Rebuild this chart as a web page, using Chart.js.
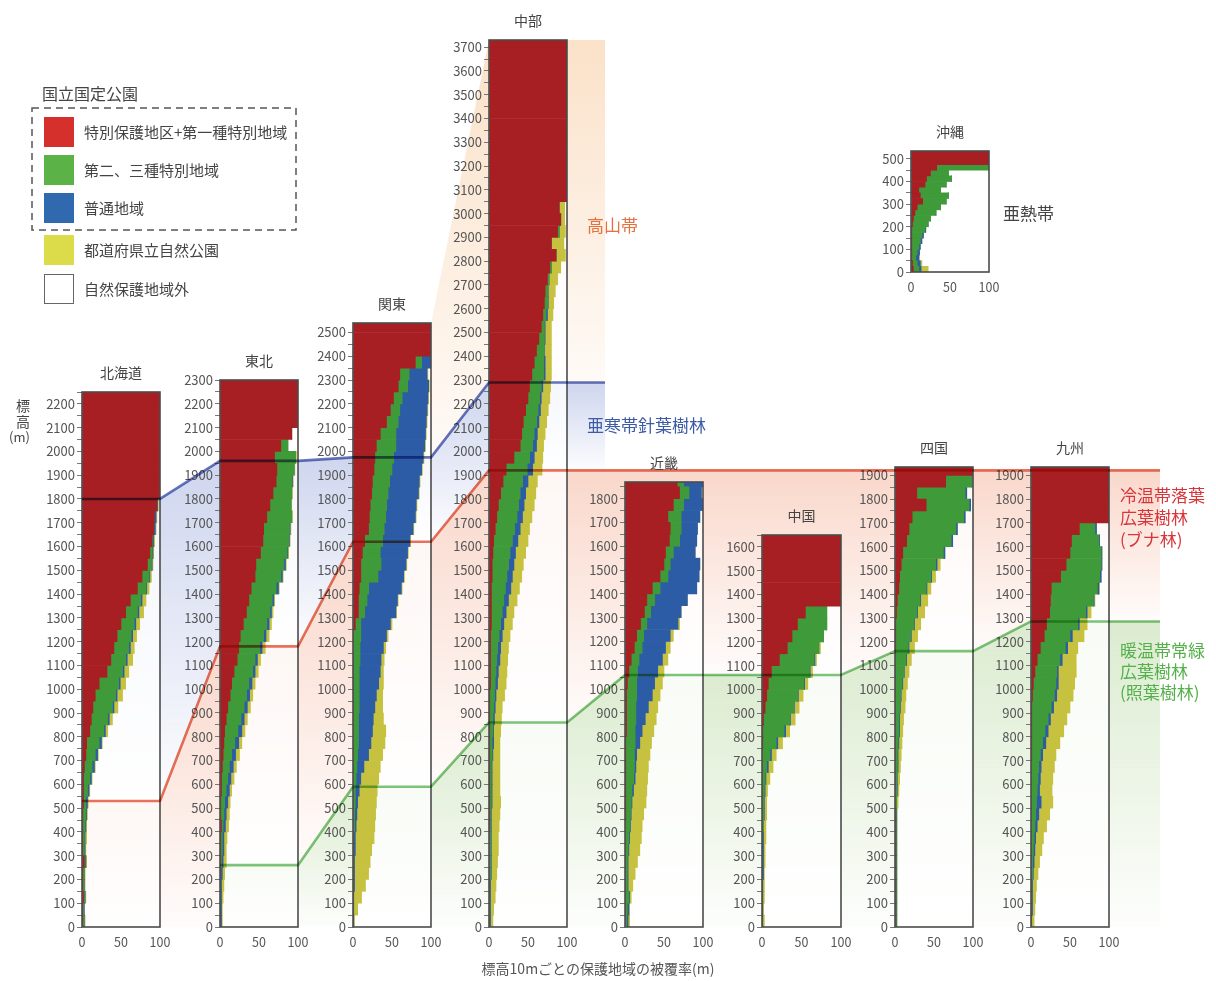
<!DOCTYPE html>
<html lang="ja">
<head>
<meta charset="utf-8">
<title>標高別の保護地域被覆率</title>
<script src="https://cdn.jsdelivr.net/npm/chart.js@4.4.1/dist/chart.umd.min.js"></script>
<style>
  html, body { margin: 0; padding: 0; background: #fff; }
  #stage { position: relative; width: 1216px; height: 981px; overflow: hidden;
           font-family: "Noto Sans CJK JP", "Noto Sans", sans-serif; color: #444; }
  #stage canvas { position: absolute; }
  .t { position: absolute; white-space: nowrap; z-index: 3; }
  .ptitle { font-size: 14px; color: #444; transform: translate(-50%, -50%); }
  .zone { font-size: 17px; line-height: 22px; }
  .sw { position: absolute; width: 30px; height: 30px; z-index: 3; }
  .leg { font-size: 15px; color: #444; line-height: 20px; }
</style>
</head>
<body>
<div id="stage">
  <canvas id="zones" width="1216" height="981" style="left:0;top:0;z-index:0"></canvas>
  <canvas id="bounds" width="1216" height="981" style="left:0;top:0;z-index:2;mix-blend-mode:multiply;pointer-events:none"></canvas>

  <!-- legend -->
  <div class="t" style="left:42px;top:81px;font-size:16px;color:#444;">国立国定公園</div>
  <svg style="position:absolute;left:30px;top:106px;z-index:3" width="270" height="127">
    <rect x="2" y="2" width="264" height="122" fill="none" stroke="#555" stroke-width="1.5" stroke-dasharray="7 5"/>
  </svg>
  <div class="sw" style="left:44px;top:117px;background:#d6302c;"></div>
  <div class="sw" style="left:44px;top:155px;background:#5bb348;"></div>
  <div class="sw" style="left:44px;top:193px;background:#3169b0;"></div>
  <div class="sw" style="left:44px;top:235px;background:#dcdc4a;"></div>
  <div class="sw" style="left:44px;top:274px;width:28px;height:28px;border:1px solid #666;background:#fff;"></div>
  <div class="t leg" style="left:84px;top:122px;">特別保護地区+第一種特別地域</div>
  <div class="t leg" style="left:84px;top:160px;">第二、三種特別地域</div>
  <div class="t leg" style="left:84px;top:198px;">普通地域</div>
  <div class="t leg" style="left:84px;top:240px;">都道府県立自然公園</div>
  <div class="t leg" style="left:84px;top:279px;">自然保護地域外</div>

  <!-- axis titles -->
  <div class="t" style="left:14px;top:397px;font-size:14px;line-height:16px;text-align:center;width:18px;color:#444;">標<br>高</div>
  <div class="t" style="left:9px;top:429px;font-size:13px;line-height:16px;color:#444;">(m)</div>
  <div class="t" style="left:598px;top:968px;font-size:14px;color:#555;transform:translate(-50%,-50%);">標高10mごとの保護地域の被覆率(m)</div>

  <!-- vegetation zone names -->
  <div class="t zone" style="left:587px;top:214px;color:#e8703f;">高山帯</div>
  <div class="t zone" style="left:587px;top:414px;color:#3b5ba5;">亜寒帯針葉樹林</div>
  <div class="t zone" style="left:1120px;top:484px;color:#d8353a;">冷温帯落葉<br>広葉樹林<br>(ブナ林)</div>
  <div class="t zone" style="left:1120px;top:639px;color:#55b04c;line-height:21px;">暖温帯常緑<br>広葉樹林<br>(照葉樹林)</div>
  <div class="t zone" style="left:1003px;top:202px;color:#444;">亜熱帯</div>
</div>

<script>
// ---------------------------------------------------------------------------
// Coverage per elevation band. Each array holds the cumulative share (%) of the
// band covered from the left edge: R = special protection + class I,
// G = + class II/III special zones, B = + ordinary zones, Y = + prefectural parks.
// Index i is the band [i*step, (i+1)*step) metres.
// ---------------------------------------------------------------------------
const hokkaidoR = [1,1,2,1,1,3,1,1,1,1, 2,2,2,3,5,6,10,12,14,17, 22,32,37,41,45,50,56,62,71,77, 84,87,90,92,93,96,100,100,100,100, 100,100,100,100,100];
const hokkaidoG = [2,2,3,2,3,4,3,3,4,5, 5,7,10,13,17,22,28,33,39,43, 47,52,56,60,63,67,71,75,82,86, 89,90,91,92,93,96,100,100,100,100, 100,100,100,100,100];
const hokkaidoB = [3,3,4,3,3,5,4,4,5,6, 7,9,12,16,20,25,30,35,41,45, 49,54,58,62,65,69,73,77,83,87, 90,91,92,94,95,97,100,100,100,100, 100,100,100,100,100];
const hokkaidoY = [4,3,5,4,4,6,5,6,6,7, 8,10,13,17,21,26,33,39,46,52, 56,60,65,67,70,74,79,82,86,89, 91,92,93,95,96,98,100,100,100,100, 100,100,100,100,100];

const tohokuR = [0,0,0,0,0,1,1,1,2,1, 1,2,2,3,4,5,6,8,10,13, 15,18,22,24,26,30,34,37,40,45, 46,52,55,56,60,64,68,72,73,70, 78,92,100,100,100,100];
const tohokuG = [0,1,1,1,1,2,3,3,4,5, 6,8,10,12,15,19,23,27,31,34, 37,42,45,51,56,60,64,67,72,78, 82,86,88,89,92,91,92,92,95,97, 87,92,100,100,100,100];
const tohokuB = [2,2,2,2,3,4,5,5,7,8, 10,12,14,17,20,24,28,31,35,38, 41,45,48,54,59,63,66,69,75,80, 84,87,89,90,92,91,92,93,95,97, 87,92,100,100,100,100];
const tohokuY = [3,3,4,5,6,8,8,9,11,12, 13,15,18,21,25,28,32,35,39,42, 45,49,52,58,63,66,68,70,76,81, 85,88,90,91,93,92,93,94,96,98, 87,92,100,100,100,100];

const kantoR = [0,0,0,0,0,0,0,0,0,0, 0,0,0,0,0,0,0,0,0,0, 0,0,0,0,0,3,7,7,8,10, 10,12,15,20,21,22,24,25,27,28, 30,35,43,48,52,58,60,80,100,100, 100];
const kantoG = [0,0,0,1,1,1,1,1,2,2, 3,3,4,5,6,7,7,7,8,8, 8,8,9,9,10,10,15,18,20,32, 36,35,38,40,42,43,45,47,50,52, 55,55,58,60,63,70,72,88,100,100, 100];
const kantoB = [1,1,1,2,2,2,3,3,4,5, 6,8,10,14,20,23,25,26,28,30, 33,35,36,39,43,48,55,57,62,65, 68,70,73,77,80,81,84,85,88,90, 92,93,94,95,96,97,95,100,100,100, 100];
const kantoY = [2,6,11,16,20,22,24,27,28,29, 30,31,33,35,38,41,42,39,38,38, 39,39,40,42,45,50,56,58,63,66, 69,71,74,78,81,82,85,86,89,91, 93,94,95,96,97,98,96,100,100,100, 100];

const chubuR = [0,0,0,0,0,0,0,0,1,1, 1,1,1,1,1,1,1,1,1,1, 2,2,2,2,2,3,3,3,3,4, 4,5,6,8,10,12,15,18,22,32, 40,42,44,47,50,52,55,58,61,64, 67,69,71,72,75,78,86,80,88,92, 90,100,100,100,100,100,100,100,100,100, 100,100,100,100,100];
const chubuG = [1,1,1,1,2,2,2,2,2,2, 3,3,3,3,4,4,5,5,6,7, 8,9,10,11,13,15,17,19,21,23, 25,27,30,33,36,38,40,43,49,52, 56,58,61,63,65,67,70,70,70,71, 71,73,75,75,77,80,86,80,90,92, 90,100,100,100,100,100,100,100,100,100, 100,100,100,100,100];
const chubuB = [2,2,2,2,3,3,3,3,3,3, 4,4,4,4,5,6,6,7,8,9, 11,12,14,15,17,19,22,25,28,30, 32,34,37,40,43,45,47,50,56,58, 61,62,64,66,67,69,72,72,71,72, 72,75,76,76,77,80,86,80,90,92, 90,100,100,100,100,100,100,100,100,100, 100,100,100,100,100];
const chubuY = [5,6,8,9,10,11,12,12,13,14, 15,14,14,14,14,14,15,16,17,20, 22,23,24,25,27,30,32,36,39,42, 44,47,50,52,55,58,60,62,68,69, 70,72,74,76,78,79,80,80,80,80, 80,82,83,85,88,92,98,96,98,97, 97,100,100,100,100,100,100,100,100,100, 100,100,100,100,100];

const kinkiR = [0,0,0,0,0,0,0,0,0,1, 1,1,1,1,1,1,2,2,2,2, 3,5,8,12,15,20,25,28,35,45, 50,52,57,58,55,62,70,67];
const kinkiG = [2,3,5,3,3,3,4,5,6,7, 8,9,11,12,12,13,13,14,14,15, 15,16,18,22,24,28,33,38,45,55, 58,62,70,72,72,75,82,75];
const kinkiB = [4,5,6,4,4,4,5,6,7,8, 9,11,13,14,15,19,22,26,30,35, 38,42,48,52,58,68,72,80,92,95, 96,90,92,93,96,100,98,100];
const kinkiY = [6,6,8,10,13,16,19,21,22,24, 27,28,29,30,32,34,37,40,42,45, 48,50,55,58,62,70,72,80,92,95, 96,90,92,93,96,100,98,100];

const chugokuR = [0,0,0,0,0,0,0,0,0,0, 0,0,0,0,0,1,1,2,4,6, 8,12,22,32,38,45,55,100,100,100, 100,100,100];
const chugokuG = [1,1,1,1,1,1,1,1,2,2, 2,3,4,6,10,18,28,35,40,45, 53,60,66,72,78,82,82,100,100,100, 100,100,100];
const chugokuB = [1,1,1,1,2,2,2,2,2,3, 3,4,5,8,12,20,30,36,41,46, 54,61,67,72,78,82,82,100,100,100, 100,100,100];
const chugokuY = [3,2,3,3,3,4,4,5,5,6, 6,7,10,14,18,26,35,42,47,52, 58,64,69,74,78,82,82,100,100,100, 100,100,100];

const shikokuR = [0,0,0,0,0,0,0,0,0,0, 0,0,0,0,0,0,0,0,0,0, 0,0,0,1,1,1,2,3,5,6, 8,10,15,18,22,40,28,65,100];
const shikokuG = [1,1,1,1,1,1,1,1,1,1, 2,2,2,3,3,4,5,5,6,7, 9,11,14,17,20,24,28,32,40,46, 52,62,72,78,88,95,90,98,100];
const shikokuB = [2,2,2,2,2,2,2,2,2,2, 2,3,3,4,4,5,6,6,7,8, 10,12,15,18,21,25,29,33,41,47, 54,64,74,80,90,97,92,99,100];
const shikokuY = [3,3,3,3,3,3,3,3,3,3, 4,5,6,7,8,9,10,11,13,14, 16,18,21,25,29,33,38,42,46,52, 58,64,74,80,90,97,92,99,100];

const kyushuR = [0,0,0,0,0,0,0,0,0,0, 0,0,0,0,1,1,1,1,1,2, 3,5,8,12,17,20,24,25,26,38, 45,50,52,62,100,100,100,100,100];
const kyushuG = [0,1,1,1,2,2,3,4,5,6, 7,8,9,10,12,15,18,22,26,30, 32,33,37,44,50,60,70,80,85,88, 90,90,87,82,100,100,100,100,100];
const kyushuB = [1,2,2,2,3,4,5,6,8,10, 13,11,12,13,15,19,22,25,29,33, 35,35,40,47,53,62,72,81,87,90, 91,91,88,84,100,100,100,100,100];
const kyushuY = [4,5,6,7,9,11,14,16,20,24, 28,27,28,30,32,37,42,46,50,54, 56,58,58,60,68,72,77,82,88,90, 91,91,88,84,100,100,100,100,100];

// Okinawa uses 25 m bands
const okinawaR = [3,2,1,1,1,1,1,1,2,3, 5,8,15,12,10,18,20,25,33,100, 100,100];
const okinawaG = [10,8,6,8,10,12,14,18,22,25, 32,38,45,48,38,45,52,48,100,100, 100,100];
const okinawaB = [13,12,10,11,12,14,16,19,22,25, 32,38,45,48,38,45,52,48,100,100, 100,100];
const okinawaY = [22,14,11,11,12,14,16,19,22,25, 32,38,45,48,38,45,52,48,100,100, 100,100];

// Upper limits (m) of the vegetation zones
const regionTops   = [2250, 2300, 2540, 3730];                 // 北海道, 東北, 関東, 中部
const coniferUpper = [1800, 1960, 1975, 2290];                 // 高山帯 / 亜寒帯 boundary
const beechUpper   = [530, 1180, 1620, 1920];                  // 亜寒帯 / 冷温帯 boundary
const laurelUpper  = [260, 590, 860, 1060, 1060, 1160, 1285];  // 冷温帯 / 暖温帯 boundary, 東北..九州

const xTicks = [0, 50, 100];

// ---------------------------------------------------------------------------
// Layout
// ---------------------------------------------------------------------------
const PX_PER_M = 0.2378, BASE_Y = 927;
const AXIS_W = 48, PAD_R = 26, PAD_T = 12, XAXIS_H = 26;
const NORTH_END = 605, SOUTH_END = 1160;
const CLASS_COLORS = ['#a71f22', '#3f9b39', '#2c5ca5', '#c6c13f'];

const PANELS = [
  { title: '北海道', left: 82,   right: 160,  top: regionTops[0], step: 50, edges: [hokkaidoR, hokkaidoG, hokkaidoB, hokkaidoY] },
  { title: '東北',   left: 220,  right: 298,  top: regionTops[1], step: 50, edges: [tohokuR, tohokuG, tohokuB, tohokuY] },
  { title: '関東',   left: 353,  right: 431,  top: regionTops[2], step: 50, edges: [kantoR, kantoG, kantoB, kantoY] },
  { title: '中部',   left: 489,  right: 567,  top: regionTops[3], step: 50, edges: [chubuR, chubuG, chubuB, chubuY] },
  { title: '近畿',   left: 625,  right: 703,  top: 1870, step: 50, edges: [kinkiR, kinkiG, kinkiB, kinkiY] },
  { title: '中国',   left: 762,  right: 841,  top: 1650, step: 50, edges: [chugokuR, chugokuG, chugokuB, chugokuY] },
  { title: '四国',   left: 895,  right: 973,  top: 1935, step: 50, edges: [shikokuR, shikokuG, shikokuB, shikokuY] },
  { title: '九州',   left: 1031, right: 1109, top: 1935, step: 50, edges: [kyushuR, kyushuG, kyushuB, kyushuY] },
  { title: '沖縄',   left: 911,  right: 989,  top: 535,  step: 25, baseY: 272, pxPerM: 0.226, edges: [okinawaR, okinawaG, okinawaB, okinawaY] }
];

Chart.defaults.font.family = '"Noto Sans CJK JP", "Noto Sans", sans-serif';
Chart.defaults.color = '#555';

const stage = document.getElementById('stage');

// Plot box: translucent white backing and a dark frame
const framePlugin = {
  id: 'frame',
  beforeDraw(chart) {
    const a = chart.chartArea, c = chart.ctx;
    c.save(); c.fillStyle = 'rgba(255,255,255,0.8)';
    c.fillRect(a.left, a.top, a.right - a.left, a.bottom - a.top); c.restore();
  },
  afterDraw(chart) {
    const a = chart.chartArea, c = chart.ctx;
    c.save(); c.strokeStyle = '#4b4b4b'; c.lineWidth = 1.6;
    c.strokeRect(a.left, a.top, a.right - a.left, a.bottom - a.top); c.restore();
  }
};

function buildPanel(p) {
  const px = p.pxPerM || PX_PER_M, baseY = p.baseY || BASE_Y;
  const plotW = p.right - p.left, plotH = Math.round(p.top * px);
  const cv = document.createElement('canvas');
  cv.width = AXIS_W + plotW + PAD_R;
  cv.height = PAD_T + plotH + XAXIS_H;
  cv.style.left = (p.left - AXIS_W) + 'px';
  cv.style.top = (baseY - plotH - PAD_T) + 'px';
  cv.style.zIndex = 1;
  stage.appendChild(cv);

  const title = document.createElement('div');
  title.className = 't ptitle';
  title.textContent = p.title;
  title.style.left = ((p.left + p.right) / 2) + 'px';
  title.style.top = (baseY - plotH - 20) + 'px';
  stage.appendChild(title);

  const datasets = p.edges.map((edge, k) => ({
    data: edge.map((v, i) => ({ x: v - (k ? p.edges[k - 1][i] : 0), y: i * p.step + p.step / 2 })),
    backgroundColor: CLASS_COLORS[k],
    borderWidth: 0,
    barPercentage: 1,
    categoryPercentage: 1,
    clip: 0
  }));

  new Chart(cv, {
    type: 'bar',
    data: { datasets },
    plugins: [framePlugin],
    options: {
      indexAxis: 'y',
      responsive: false,
      animation: false,
      devicePixelRatio: 1,
      layout: { padding: { left: 0, right: PAD_R, top: PAD_T, bottom: 0 } },
      plugins: { legend: { display: false }, tooltip: { enabled: false } },
      scales: {
        x: {
          type: 'linear', min: 0, max: 100, stacked: true,
          afterFit: s => { s.height = XAXIS_H; },
          afterBuildTicks: s => { s.ticks = xTicks.map(v => ({ value: v })); },
          ticks: { padding: 8, font: { size: 12.5 }, maxRotation: 0, autoSkip: false, color: '#555' },
          grid: { display: true, drawOnChartArea: false, drawTicks: false },
          border: { display: false }
        },
        y: {
          type: 'linear', min: 0, max: p.top, stacked: true, offset: false,
          afterFit: s => { s.width = AXIS_W; },
          ticks: { stepSize: 50, includeBounds: false, autoSkip: false, padding: 2, font: { size: 13 }, color: '#555',
                   callback: v => (v % 100 === 0 ? String(v) : '') },
          grid: { offset: false, drawOnChartArea: false, drawTicks: true, tickLength: 5, tickColor: '#777' },
          border: { display: false }
        }
      }
    }
  });
}
PANELS.forEach(buildPanel);

// ---------------------------------------------------------------------------
// Vegetation zones behind the panels, boundary lines on top
// ---------------------------------------------------------------------------
const P = PANELS;
function alongPanels(from, count, fn, endX) {
  const pts = [];
  for (let k = 0; k < count; k++) {
    const p = P[from + k];
    pts.push([p.left, ...fn(k)], [p.right, ...fn(k)]);
  }
  pts.push([endX, ...fn(count - 1)]);
  return pts;
}

// alpine tint is shown from 関東 eastwards only
const alpineBand = alongPanels(2, 2, k => [regionTops[k + 2], coniferUpper[k + 2]], NORTH_END);
const subarcticBand = alongPanels(0, 4, k => [coniferUpper[k], beechUpper[k]], NORTH_END);
const coolBand = [[P[0].left, beechUpper[0], 0], [P[0].right, beechUpper[0], 0], [P[1].left, beechUpper[1], 0]]
  .concat(alongPanels(1, 7, k => [beechUpper[Math.min(k + 1, 3)], laurelUpper[k]], SOUTH_END));
const warmBand = alongPanels(1, 7, k => [laurelUpper[k], 0], SOUTH_END);

const BANDS = [
  { pts: alpineBand,    rgb: '246,196,146', a0: 0.5,  a1: 0.08 },
  { pts: subarcticBand, rgb: '176,188,228', a0: 0.62, a1: 0.03 },
  { pts: coolBand,      rgb: '244,176,150', a0: 0.50, a1: 0.04 },
  { pts: warmBand,      rgb: '184,216,160', a0: 0.50, a1: 0.03 }
];

const bandPlugin = {
  id: 'bands',
  beforeDatasetsDraw(chart) {
    const { ctx, scales: { x, y } } = chart;
    BANDS.forEach(b => {
      for (let i = 0; i < b.pts.length - 1; i++) {
        const [x0, t0, u0] = b.pts[i], [x1, t1, u1] = b.pts[i + 1];
        if (x1 <= x0) continue;
        const X0 = x.getPixelForValue(x0), X1 = x.getPixelForValue(x1);
        const T0 = y.getPixelForValue(t0), T1 = y.getPixelForValue(t1);
        const B0 = y.getPixelForValue(u0), B1 = y.getPixelForValue(u1);
        const g = ctx.createLinearGradient(0, Math.min(T0, T1), 0, Math.max(B0, B1));
        g.addColorStop(0, `rgba(${b.rgb},${b.a0})`);
        g.addColorStop(1, `rgba(${b.rgb},${b.a1})`);
        ctx.save();
        ctx.fillStyle = g;
        ctx.beginPath();
        ctx.moveTo(X0, T0); ctx.lineTo(X1, T1); ctx.lineTo(X1, B1); ctx.lineTo(X0, B0);
        ctx.closePath(); ctx.fill();
        ctx.restore();
      }
    });
  }
};

const pageScales = {
  x: { type: 'linear', min: 0, max: 1216, display: false },
  y: { type: 'linear', min: -(981 - BASE_Y) / PX_PER_M, max: BASE_Y / PX_PER_M, display: false }
};
const pageOptions = {
  responsive: false, animation: false, devicePixelRatio: 1,
  layout: { padding: 0 },
  plugins: { legend: { display: false }, tooltip: { enabled: false } },
  scales: pageScales
};

new Chart(document.getElementById('zones'), {
  type: 'scatter',
  data: { datasets: [] },
  options: pageOptions,
  plugins: [bandPlugin]
});

const toXY = pts => pts.map(([x, y]) => ({ x, y }));
const coniferLine = toXY(alongPanels(0, 4, k => [coniferUpper[k]], NORTH_END));
const beechLine = toXY(alongPanels(0, 4, k => [beechUpper[k]], SOUTH_END));
const laurelLine = toXY(alongPanels(1, 7, k => [laurelUpper[k]], SOUTH_END));

const lineSet = (data, color) => ({
  data, showLine: true, borderColor: color, borderWidth: 2.6,
  pointRadius: 0, fill: false, tension: 0, borderJoinStyle: 'round'
});

new Chart(document.getElementById('bounds'), {
  type: 'scatter',
  data: { datasets: [
    lineSet(coniferLine, '#6676bd'),
    lineSet(beechLine, '#e8735c'),
    lineSet(laurelLine, '#7ec47a')
  ] },
  options: pageOptions
});
</script>
</body>
</html>
